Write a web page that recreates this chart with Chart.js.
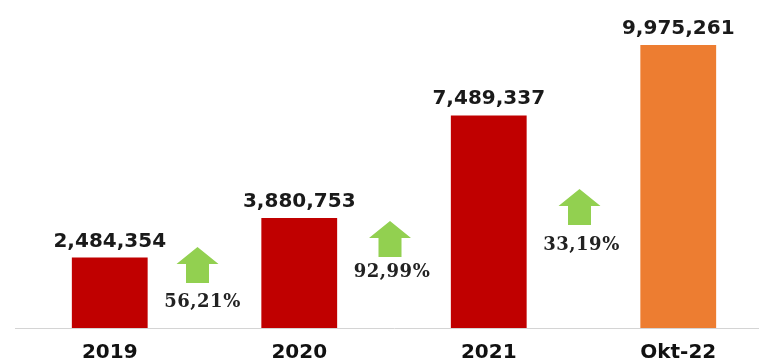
<!DOCTYPE html>
<html>
<head>
<meta charset="utf-8">
<script src="https://cdn.jsdelivr.net/npm/chart.js@4/dist/chart.umd.min.js"></script>
<style>
html,body{margin:0;padding:0;background:#fff;overflow:hidden;}
#wrap{width:773px;height:363px;}
</style>
</head>
<body>
<div id="wrap"><canvas id="c" width="773" height="363"></canvas></div>
<script>
// ---- data ----
const categories = ['2019', '2020', '2021', 'Okt-22'];
const values = [2484354, 3880753, 7489337, 9975261];
const growthLabels = ['56,21%', '92,99%', '33,19%'];
const yMax = 11560000;

// ---- styling ----
const barColors = ['#c00000', '#c00000', '#c00000', '#ed7d31'];
const arrowColor = '#92d050';
// annotation layout: pixels above the x-axis line for arrow bottom and text centre
const arrowLayout = [
  {arrowBottom: 45, textMid: 26, dx: -7, tdx: -2},
  {arrowBottom: 71, textMid: 56, dx: -4, tdx: -2},
  {arrowBottom: 103, textMid: 83, dx: -4, tdx: -2}
];

function fmt(v){ return v.toString().replace(/\B(?=(\d{3})+(?!\d))/g, ','); }

const overlay = {
  id: 'overlay',
  afterDatasetsDraw(chart){
    const ctx = chart.ctx;
    const meta = chart.getDatasetMeta(0);
    const xs = chart.scales.x;
    const base = chart.chartArea.bottom;
    ctx.save();
    // value labels
    ctx.fillStyle = '#1a1a1a';
    ctx.font = 'bold 20px "DejaVu Sans"';
    ctx.textAlign = 'center';
    ctx.textBaseline = 'alphabetic';
    meta.data.forEach((bar, i) => {
      ctx.fillText(fmt(values[i]), bar.x, bar.y - 11);
    });
    // growth arrows
    growthLabels.forEach((lbl, i) => {
      const mid = (xs.getPixelForValue(i) + xs.getPixelForValue(i + 1)) / 2;
      const L = arrowLayout[i];
      const cx = mid + L.dx;
      const bottom = base - L.arrowBottom;
      const h = 36, hw = 21, sw = 11.5, headH = 17;
      const top = bottom - h;
      ctx.fillStyle = arrowColor;
      ctx.beginPath();
      ctx.moveTo(cx, top);
      ctx.lineTo(cx + hw, top + headH);
      ctx.lineTo(cx + sw, top + headH);
      ctx.lineTo(cx + sw, bottom);
      ctx.lineTo(cx - sw, bottom);
      ctx.lineTo(cx - sw, top + headH);
      ctx.lineTo(cx - hw, top + headH);
      ctx.closePath();
      ctx.fill();
      ctx.fillStyle = '#222';
      ctx.font = 'bold 18px "DejaVu Serif"';
      ctx.letterSpacing = '0.5px';
      ctx.textBaseline = 'middle';
      ctx.fillText(lbl, mid + L.tdx, base - L.textMid);
      ctx.letterSpacing = '0px';
    });
    ctx.restore();
  }
};

new Chart(document.getElementById('c'), {
  type: 'bar',
  data: {
    labels: categories,
    datasets: [{
      data: values,
      backgroundColor: barColors,
      borderWidth: 0,
      barPercentage: 0.8,
      categoryPercentage: 0.5
    }]
  },
  options: {
    responsive: false,
    animation: false,
    devicePixelRatio: 1,
    layout: {padding: {left: 15, right: 0, top: 0, bottom: -15}},
    plugins: {legend: {display: false}, tooltip: {enabled: false}, title: {display: false}},
    scales: {
      x: {
        grid: {display: false, drawTicks: false},
        border: {display: true, color: '#d4d4d4', width: 1},
        ticks: {
          color: '#111',
          font: {family: '"DejaVu Sans"', size: 20, weight: 'bold', lineHeight: 1},
          padding: 15,
          maxRotation: 0
        }
      },
      y: {display: false, min: 0, max: yMax}
    }
  },
  plugins: [overlay]
});
</script>
</body>
</html>
